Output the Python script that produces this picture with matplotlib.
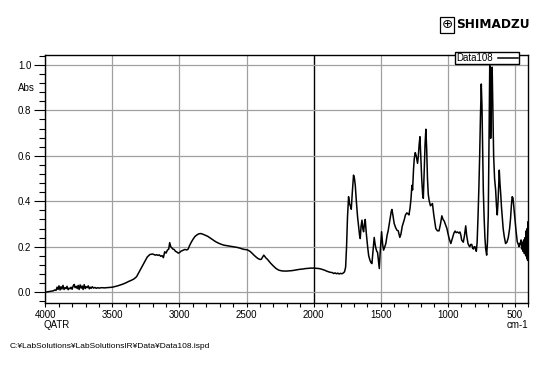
import matplotlib
matplotlib.use("Agg")
import matplotlib.pyplot as plt
import numpy as np

# spectrum (wavenumber cm-1, absorbance)
wn_high = [4000, 3980, 3960, 3940, 3930, 3920, 3912, 3905, 3898, 3890, 3883, 3876, 3868, 3860,
           3852, 3845, 3838, 3830, 3822, 3815, 3808, 3800, 3792, 3785, 3778, 3770, 3762, 3755,
           3748, 3740, 3732, 3725, 3718, 3710, 3702, 3695, 3688, 3680, 3672, 3665, 3658, 3650,
           3640, 3630, 3620, 3610, 3600, 3580, 3560, 3540, 3520, 3500, 3480, 3460, 3440, 3420,
           3400, 3380, 3360, 3340, 3320, 3300, 3280, 3260, 3240, 3220, 3200, 3180, 3170, 3160,
           3150, 3140, 3130, 3120, 3110, 3100, 3090, 3080, 3073, 3065, 3058, 3050, 3040, 3030,
           3020, 3010, 3000, 2990, 2975, 2960, 2945, 2935, 2925, 2912, 2900, 2885, 2870, 2855,
           2840, 2825, 2810, 2790, 2770, 2750, 2730, 2710, 2690, 2670, 2650, 2630, 2610, 2590,
           2570, 2550, 2530, 2515, 2500, 2490, 2475, 2460, 2445, 2430, 2415, 2400, 2390, 2380,
           2372, 2365, 2355, 2345, 2335, 2320, 2300, 2280, 2260, 2240, 2220, 2200, 2180, 2160,
           2140, 2120, 2100, 2080, 2060, 2040, 2020]
abs_high = [0.0, 0.002, 0.004, 0.006, 0.010, 0.008, 0.022, 0.012, 0.028, 0.010, 0.024, 0.014, 0.030, 0.012,
            0.020, 0.016, 0.026, 0.011, 0.018, 0.015, 0.022, 0.013, 0.028, 0.034, 0.020, 0.026, 0.016, 0.030,
            0.012, 0.032, 0.018, 0.027, 0.012, 0.033, 0.016, 0.024, 0.020, 0.028, 0.015, 0.022, 0.017, 0.024,
            0.018, 0.021, 0.017, 0.020, 0.018, 0.020, 0.019, 0.020, 0.021, 0.022, 0.025, 0.028, 0.032, 0.036,
            0.041, 0.047, 0.052, 0.058, 0.068, 0.090, 0.112, 0.135, 0.155, 0.166, 0.168, 0.163, 0.165, 0.162,
            0.164, 0.158, 0.161, 0.152, 0.178, 0.172, 0.185, 0.190, 0.218, 0.200, 0.196, 0.190, 0.188, 0.180,
            0.177, 0.172, 0.174, 0.180, 0.184, 0.188, 0.186, 0.190, 0.205, 0.220, 0.232, 0.245, 0.252, 0.257,
            0.258, 0.255, 0.251, 0.246, 0.238, 0.230, 0.222, 0.216, 0.211, 0.207, 0.205, 0.203, 0.201, 0.199,
            0.197, 0.194, 0.190, 0.188, 0.187, 0.185, 0.180, 0.172, 0.163, 0.155, 0.148, 0.144, 0.145, 0.155,
            0.163, 0.158, 0.150, 0.145, 0.138, 0.127, 0.115, 0.104, 0.097, 0.094, 0.093, 0.093, 0.094, 0.095,
            0.097, 0.099, 0.101, 0.102, 0.104, 0.105, 0.106]

wn_mid = [2000, 1980, 1960, 1940, 1920, 1900, 1880, 1860, 1850, 1840, 1830, 1820, 1810, 1800, 1790,
          1780, 1770, 1762, 1755, 1748, 1740, 1733, 1727, 1720, 1712, 1703, 1696, 1690, 1682, 1673,
          1665, 1658, 1653, 1647, 1640, 1634, 1628, 1622, 1616, 1608, 1598, 1590, 1581, 1573, 1566,
          1558, 1549, 1542, 1536, 1530, 1524, 1518, 1511, 1504, 1494, 1486, 1479, 1470, 1462, 1453,
          1445, 1437, 1430, 1422, 1417, 1410, 1400, 1390, 1380, 1370, 1358, 1350, 1340, 1326, 1316,
          1306, 1298, 1290, 1282, 1275, 1268, 1263, 1256, 1250, 1243, 1236, 1230, 1226, 1220, 1214,
          1208, 1202, 1195, 1188, 1183, 1177, 1170, 1164, 1158, 1152, 1146, 1140, 1130, 1122, 1115,
          1105, 1090, 1078, 1066, 1055, 1045, 1036, 1028, 1016, 1007]
abs_mid = [0.106, 0.105, 0.104, 0.101, 0.097, 0.092, 0.088, 0.086, 0.082, 0.085, 0.081, 0.084, 0.080, 0.083, 0.081,
           0.084, 0.090, 0.110, 0.200, 0.330, 0.420, 0.390, 0.380, 0.365, 0.440, 0.515, 0.500, 0.470, 0.400, 0.332,
           0.290, 0.250, 0.236, 0.290, 0.317, 0.280, 0.266, 0.300, 0.320, 0.260, 0.200, 0.160, 0.141, 0.130, 0.126,
           0.180, 0.241, 0.210, 0.192, 0.180, 0.175, 0.140, 0.104, 0.180, 0.266, 0.210, 0.185, 0.200, 0.215, 0.250,
           0.270, 0.300, 0.324, 0.355, 0.364, 0.340, 0.302, 0.285, 0.273, 0.270, 0.241, 0.255, 0.290, 0.317, 0.340,
           0.349, 0.345, 0.340, 0.370, 0.410, 0.470, 0.450, 0.540, 0.590, 0.614, 0.600, 0.580, 0.567, 0.600, 0.650,
           0.684, 0.600, 0.500, 0.430, 0.413, 0.520, 0.650, 0.717, 0.630, 0.500, 0.430, 0.405, 0.380, 0.385, 0.390,
           0.340, 0.280, 0.270, 0.270, 0.300, 0.336, 0.320, 0.314, 0.295, 0.280]

wn_low = [1000, 990, 978, 965, 955, 946, 938, 928, 918, 910, 903, 897, 885, 876, 867, 860, 850, 843, 837,
          830, 822, 816, 810, 804, 798, 792, 788, 782, 775, 769, 763, 757, 751, 746, 741, 736, 730, 724,
          718, 711, 705, 699, 695, 692, 688, 684, 681, 677, 674, 670, 665, 659, 652, 644, 638, 632, 626,
          621, 617, 612, 606, 600, 595, 588, 580, 570, 560, 550, 540, 533, 527, 521, 515, 508, 500, 492,
          483, 475, 470, 465, 460, 455, 450, 445, 440, 435, 430, 425, 420, 416, 412, 409, 406, 403, 400]
abs_low = [0.260, 0.235, 0.214, 0.240, 0.260, 0.269, 0.262, 0.265, 0.260, 0.265, 0.250, 0.229, 0.220, 0.250, 0.292,
           0.250, 0.214, 0.205, 0.200, 0.210, 0.210, 0.195, 0.190, 0.200, 0.200, 0.185, 0.180, 0.220, 0.339, 0.460,
           0.603, 0.780, 0.916, 0.820, 0.620, 0.450, 0.330, 0.240, 0.190, 0.163, 0.220, 0.339, 0.550, 0.750, 0.997,
           0.850, 0.677, 0.800, 0.950, 0.990, 0.800, 0.600, 0.500, 0.449, 0.380, 0.340, 0.400, 0.480, 0.537, 0.480,
           0.430, 0.370, 0.330, 0.280, 0.245, 0.214, 0.220, 0.240, 0.280, 0.324, 0.380, 0.420, 0.415, 0.370, 0.320,
           0.270, 0.222, 0.210, 0.200, 0.215, 0.210, 0.230, 0.190, 0.220, 0.180, 0.230, 0.170, 0.240, 0.160, 0.270,
           0.150, 0.280, 0.140, 0.310, 0.200]

x_ticks = [4000, 3500, 3000, 2500, 2000, 1500, 1000, 500]
y_ticks = [0.0, 0.2, 0.4, 0.6, 0.8, 1.0]

wavenumber = np.array(wn_high + wn_mid + wn_low)
absorbance = np.array(abs_high + abs_mid + abs_low)

plt.rcParams["font.family"] = ["Liberation Sans", "DejaVu Sans"]

fig = plt.figure(figsize=(5.41, 3.77), dpi=100)
ax = fig.add_axes([0.0837, 0.196, 0.893, 0.659])

ax.plot(wavenumber, absorbance, color="black", linewidth=1.1, label="Data108")

ax.set_xlim(4000, 400)
ax.set_ylim(-0.048, 1.045)

ax.set_xticks(x_ticks)
ax.set_xticklabels([str(t) for t in x_ticks])
ax.set_xticks(np.arange(4000, 399, -100), minor=True)
ax.set_yticks(y_ticks)
ax.set_yticklabels([f"{t:.1f}" for t in y_ticks])
ax.set_yticks(np.arange(-0.04, 1.041, 0.04), minor=True)

ax.tick_params(axis="both", which="major", labelsize=7, width=0.8, color="black")
ax.tick_params(axis="y", which="major", length=8, pad=2)
ax.tick_params(axis="y", which="minor", length=4, width=0.8)
ax.tick_params(axis="x", which="major", length=3, pad=2)
ax.tick_params(axis="x", which="minor", length=3, width=0.8)

# grid
for t in x_ticks:
    ax.axvline(t, color="black" if t == 2000 else "#a0a0a0",
               linewidth=1.0 if t == 2000 else 0.9, zorder=0)
for t in y_ticks:
    ax.axhline(t, color="#a0a0a0", linewidth=0.9, zorder=0)

for sp in ax.spines.values():
    sp.set_linewidth(1.0)

ax.legend(loc="upper right", bbox_to_anchor=(519 / 541, 1 - 51.5 / 377),
          bbox_transform=fig.transFigure, fontsize=7, frameon=True, fancybox=False,
          edgecolor="black", framealpha=1, borderpad=0.15, borderaxespad=0,
          handlelength=2.0, handletextpad=0.5, markerfirst=False)

# labels
fig.text(18 / 541, 1 - 88 / 377, "Abs", fontsize=7, va="center", ha="left")
fig.text(44 / 541, 1 - 325 / 377, "QATR", fontsize=7, va="center", ha="left")
fig.text(528 / 541, 1 - 325 / 377, "cm-1", fontsize=7, va="center", ha="right")
fig.text(10 / 541, 1 - 347 / 377, "C:\u00a5LabSolutions\u00a5LabSolutionsIR\u00a5Data\u00a5Data108.ispd",
         fontsize=6, va="center", ha="left")

# logo
fig.text(447 / 541, 1 - 25 / 377, "\u2295", family="DejaVu Sans", fontsize=9.5,
         va="center", ha="center",
         bbox=dict(boxstyle="square,pad=0.08", facecolor="white", edgecolor="black", linewidth=0.9))
fig.text(456 / 541, 1 - 25 / 377, "SHIMADZU", family="DejaVu Sans", fontsize=8.7,
         fontweight="bold", va="center", ha="left")

fig.savefig("out.png", dpi=100)
